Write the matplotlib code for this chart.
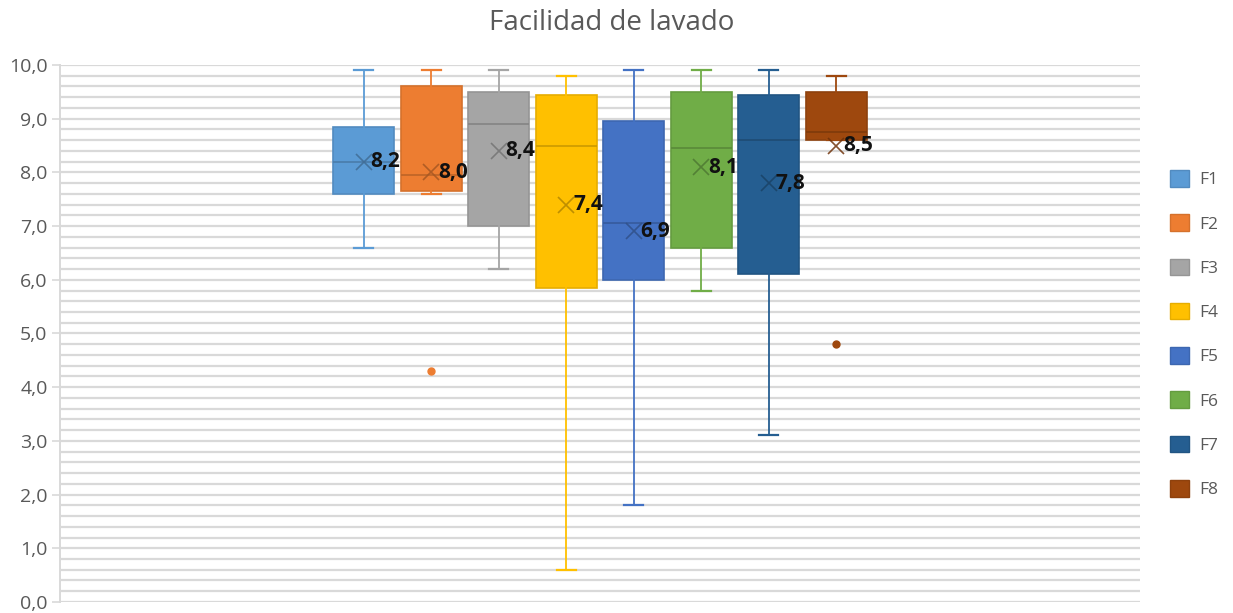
import matplotlib
matplotlib.use("Agg")
import matplotlib.pyplot as plt
import matplotlib.colors as mcolors
from matplotlib.patches import Patch

# datos
series = ["F1", "F2", "F3", "F4", "F5", "F6", "F7", "F8"]
bigotes_min = [6.6, 7.6, 6.2, 0.6, 1.8, 5.8, 3.1, 8.6]
q1 = [7.6, 7.65, 7.0, 5.85, 6.0, 6.6, 6.1, 8.6]
mediana = [8.2, 7.95, 8.9, 8.5, 7.05, 8.45, 8.6, 8.75]
q3 = [8.85, 9.6, 9.5, 9.45, 8.95, 9.5, 9.45, 9.5]
bigotes_max = [9.9, 9.9, 9.9, 9.8, 9.9, 9.9, 9.9, 9.8]
media = [8.2, 8.0, 8.4, 7.4, 6.9, 8.1, 7.8, 8.5]
atipicos = [[], [4.3], [], [], [], [], [], [4.8]]
colores = ["#5B9BD5", "#ED7D31", "#A5A5A5", "#FFC000", "#4472C4", "#70AD47", "#255E91", "#9E480E"]


def oscurecer(c, f=0.75):
    r, g, b = mcolors.to_rgb(c)
    return (r * f, g * f, b * f)


fig = plt.figure(figsize=(12.33, 6.13), dpi=100)
ax = fig.add_axes([0.0487, 0.018, 0.876, 0.876])

# rejilla
for i in range(51):
    ax.axhline(i * 0.2, color="#D9D9D9", lw=1.6, zorder=0)

posiciones = list(range(1, len(series) + 1))
for i, nombre in enumerate(series):
    stats = [{
        "whislo": bigotes_min[i], "q1": q1[i], "med": mediana[i],
        "q3": q3[i], "whishi": bigotes_max[i], "fliers": atipicos[i],
        "label": nombre,
    }]
    c = colores[i]
    ax.bxp(stats, positions=[posiciones[i]], widths=0.9, capwidths=0.28,
           patch_artist=True, showfliers=True,
           boxprops=dict(facecolor=c, edgecolor=oscurecer(c, 0.9), lw=1.2),
           medianprops=dict(color=oscurecer(c, 0.8), lw=1.2),
           whiskerprops=dict(color=c, lw=1.3),
           capprops=dict(color=c, lw=1.6),
           flierprops=dict(marker="o", markersize=5, markerfacecolor=c,
                           markeredgecolor=c),
           manage_ticks=False, zorder=2)
    ax.plot(posiciones[i], media[i], marker="x", markersize=12, mew=1.2,
            color=oscurecer(c, 0.7), zorder=3, alpha=0.85)
    ax.text(posiciones[i] + 0.1, media[i], f"{media[i]:.1f}".replace(".", ","),
            fontsize=15, fontweight="bold", color="#111111",
            va="center", ha="left", zorder=4, family="Open Sans")

ax.set_xlim(-3.5, 12.5)
ax.set_ylim(0, 10)
ax.set_yticks([i for i in range(11)])
ax.set_yticklabels([f"{i},0" for i in range(11)], fontsize=14, color="#595959",
                   family="Open Sans")
ax.set_xticks([])
ax.tick_params(axis="y", length=6, color="#D9D9D9", width=1.2, pad=3)
for s in ["top", "right", "bottom"]:
    ax.spines[s].set_visible(False)
ax.spines["left"].set_color("#D9D9D9")
ax.spines["left"].set_linewidth(1.4)

fig.text(0.496, 0.962, "Facilidad de lavado", ha="center", va="center",
         fontsize=20, color="#595959", family="Open Sans")

handles = [Patch(facecolor=c, edgecolor=oscurecer(c, 0.9), label=n)
           for n, c in zip(series, colores)]
fig.legend(handles=handles, loc="center left", bbox_to_anchor=(0.936, 0.455),
           frameon=False, labelcolor="#595959",
           handlelength=1.1, handleheight=1.1, labelspacing=1.5,
           handletextpad=0.6, prop={"family": "Open Sans", "size": 12.5})

fig.savefig("out.png", dpi=100)
